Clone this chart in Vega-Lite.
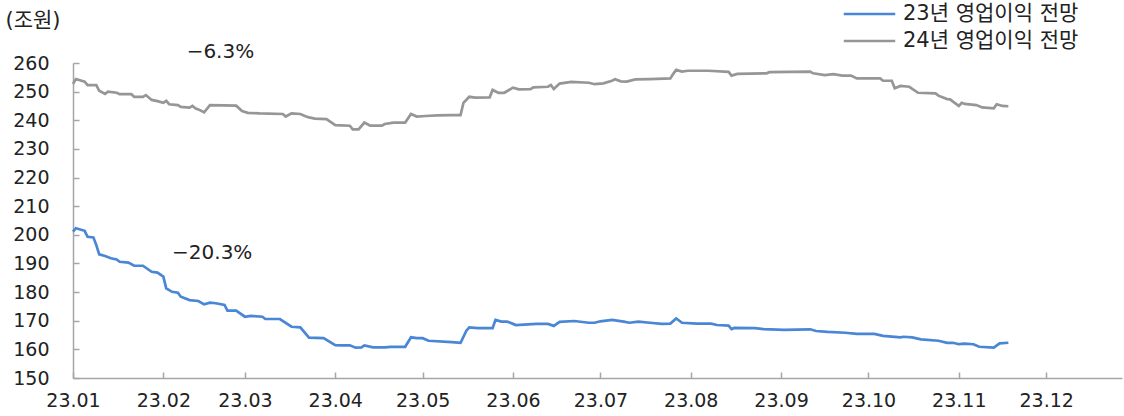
{
  "$schema": "https://vega.github.io/schema/vega-lite/v6.json",
  "width": 1049,
  "height": 315,
  "autosize": {"type": "none"},
  "padding": {"left": 73, "top": 63, "right": 2, "bottom": 38},
  "background": "white",
  "config": {
    "view": {"stroke": null},
    "font": "DejaVu Sans, Noto Sans CJK KR",
    "axis": {"grid": false}
  },
  "datasets": {
    "lines": [
      {"d":"2023-01-01","v":252.7,"s":"24년 영업이익 전망"},
      {"d":"2023-01-02","v":254.4,"s":"24년 영업이익 전망"},
      {"d":"2023-01-05","v":253.5,"s":"24년 영업이익 전망"},
      {"d":"2023-01-06","v":252.3,"s":"24년 영업이익 전망"},
      {"d":"2023-01-09","v":252.3,"s":"24년 영업이익 전망"},
      {"d":"2023-01-10","v":250.3,"s":"24년 영업이익 전망"},
      {"d":"2023-01-12","v":249.2,"s":"24년 영업이익 전망"},
      {"d":"2023-01-13","v":250.0,"s":"24년 영업이익 전망"},
      {"d":"2023-01-16","v":249.6,"s":"24년 영업이익 전망"},
      {"d":"2023-01-17","v":249.1,"s":"24년 영업이익 전망"},
      {"d":"2023-01-21","v":249.1,"s":"24년 영업이익 전망"},
      {"d":"2023-01-22","v":248.2,"s":"24년 영업이익 전망"},
      {"d":"2023-01-25","v":248.2,"s":"24년 영업이익 전망"},
      {"d":"2023-01-26","v":248.8,"s":"24년 영업이익 전망"},
      {"d":"2023-01-28","v":247.1,"s":"24년 영업이익 전망"},
      {"d":"2023-01-30","v":246.7,"s":"24년 영업이익 전망"},
      {"d":"2023-02-01","v":246.1,"s":"24년 영업이익 전망"},
      {"d":"2023-02-02","v":246.8,"s":"24년 영업이익 전망"},
      {"d":"2023-02-03","v":245.6,"s":"24년 영업이익 전망"},
      {"d":"2023-02-06","v":245.3,"s":"24년 영업이익 전망"},
      {"d":"2023-02-07","v":244.7,"s":"24년 영업이익 전망"},
      {"d":"2023-02-10","v":244.4,"s":"24년 영업이익 전망"},
      {"d":"2023-02-11","v":245.0,"s":"24년 영업이익 전망"},
      {"d":"2023-02-12","v":244.2,"s":"24년 영업이익 전망"},
      {"d":"2023-02-13","v":243.8,"s":"24년 영업이익 전망"},
      {"d":"2023-02-15","v":242.8,"s":"24년 영업이익 전망"},
      {"d":"2023-02-17","v":245.3,"s":"24년 영업이익 전망"},
      {"d":"2023-02-26","v":245.1,"s":"24년 영업이익 전망"},
      {"d":"2023-02-28","v":243.2,"s":"24년 영업이익 전망"},
      {"d":"2023-03-02","v":242.6,"s":"24년 영업이익 전망"},
      {"d":"2023-03-06","v":242.4,"s":"24년 영업이익 전망"},
      {"d":"2023-03-14","v":242.2,"s":"24년 영업이익 전망"},
      {"d":"2023-03-15","v":241.3,"s":"24년 영업이익 전망"},
      {"d":"2023-03-17","v":242.4,"s":"24년 영업이익 전망"},
      {"d":"2023-03-20","v":242.2,"s":"24년 영업이익 전망"},
      {"d":"2023-03-22","v":241.3,"s":"24년 영업이익 전망"},
      {"d":"2023-03-23","v":241.0,"s":"24년 영업이익 전망"},
      {"d":"2023-03-25","v":240.6,"s":"24년 영업이익 전망"},
      {"d":"2023-03-29","v":240.4,"s":"24년 영업이익 전망"},
      {"d":"2023-04-01","v":238.3,"s":"24년 영업이익 전망"},
      {"d":"2023-04-06","v":238.1,"s":"24년 영업이익 전망"},
      {"d":"2023-04-07","v":236.8,"s":"24년 영업이익 전망"},
      {"d":"2023-04-09","v":236.8,"s":"24년 영업이익 전망"},
      {"d":"2023-04-11","v":239.2,"s":"24년 영업이익 전망"},
      {"d":"2023-04-13","v":238.1,"s":"24년 영업이익 전망"},
      {"d":"2023-04-17","v":238.1,"s":"24년 영업이익 전망"},
      {"d":"2023-04-18","v":238.7,"s":"24년 영업이익 전망"},
      {"d":"2023-04-21","v":239.2,"s":"24년 영업이익 전망"},
      {"d":"2023-04-25","v":239.2,"s":"24년 영업이익 전망"},
      {"d":"2023-04-27","v":242.2,"s":"24년 영업이익 전망"},
      {"d":"2023-04-29","v":241.3,"s":"24년 영업이익 전망"},
      {"d":"2023-05-02","v":241.5,"s":"24년 영업이익 전망"},
      {"d":"2023-05-06","v":241.7,"s":"24년 영업이익 전망"},
      {"d":"2023-05-11","v":241.8,"s":"24년 영업이익 전망"},
      {"d":"2023-05-14","v":241.8,"s":"24년 영업이익 전망"},
      {"d":"2023-05-15","v":246.1,"s":"24년 영업이익 전망"},
      {"d":"2023-05-17","v":248.2,"s":"24년 영업이익 전망"},
      {"d":"2023-05-19","v":247.9,"s":"24년 영업이익 전망"},
      {"d":"2023-05-24","v":248.0,"s":"24년 영업이익 전망"},
      {"d":"2023-05-25","v":250.6,"s":"24년 영업이익 전망"},
      {"d":"2023-05-27","v":249.6,"s":"24년 영업이익 전망"},
      {"d":"2023-05-29","v":249.6,"s":"24년 영업이익 전망"},
      {"d":"2023-06-01","v":251.4,"s":"24년 영업이익 전망"},
      {"d":"2023-06-03","v":250.8,"s":"24년 영업이익 전망"},
      {"d":"2023-06-07","v":250.9,"s":"24년 영업이익 전망"},
      {"d":"2023-06-08","v":251.5,"s":"24년 영업이익 전망"},
      {"d":"2023-06-13","v":251.7,"s":"24년 영업이익 전망"},
      {"d":"2023-06-14","v":252.3,"s":"24년 영업이익 전망"},
      {"d":"2023-06-15","v":250.9,"s":"24년 영업이익 전망"},
      {"d":"2023-06-17","v":252.8,"s":"24년 영업이익 전망"},
      {"d":"2023-06-21","v":253.4,"s":"24년 영업이익 전망"},
      {"d":"2023-06-27","v":253.1,"s":"24년 영업이익 전망"},
      {"d":"2023-06-29","v":252.6,"s":"24년 영업이익 전망"},
      {"d":"2023-07-02","v":252.9,"s":"24년 영업이익 전망"},
      {"d":"2023-07-05","v":253.8,"s":"24년 영업이익 전망"},
      {"d":"2023-07-06","v":254.3,"s":"24년 영업이익 전망"},
      {"d":"2023-07-08","v":253.6,"s":"24년 영업이익 전망"},
      {"d":"2023-07-10","v":253.5,"s":"24년 영업이익 전망"},
      {"d":"2023-07-13","v":254.3,"s":"24년 영업이익 전망"},
      {"d":"2023-07-18","v":254.4,"s":"24년 영업이익 전망"},
      {"d":"2023-07-25","v":254.6,"s":"24년 영업이익 전망"},
      {"d":"2023-07-26","v":256.2,"s":"24년 영업이익 전망"},
      {"d":"2023-07-27","v":257.6,"s":"24년 영업이익 전망"},
      {"d":"2023-07-29","v":257.0,"s":"24년 영업이익 전망"},
      {"d":"2023-07-31","v":257.3,"s":"24년 영업이익 전망"},
      {"d":"2023-08-07","v":257.3,"s":"24년 영업이익 전망"},
      {"d":"2023-08-14","v":256.9,"s":"24년 영업이익 전망"},
      {"d":"2023-08-15","v":255.6,"s":"24년 영업이익 전망"},
      {"d":"2023-08-17","v":256.2,"s":"24년 영업이익 전망"},
      {"d":"2023-08-27","v":256.4,"s":"24년 영업이익 전망"},
      {"d":"2023-08-28","v":256.8,"s":"24년 영업이익 전망"},
      {"d":"2023-09-11","v":257.0,"s":"24년 영업이익 전망"},
      {"d":"2023-09-12","v":256.4,"s":"24년 영업이익 전망"},
      {"d":"2023-09-16","v":255.8,"s":"24년 영업이익 전망"},
      {"d":"2023-09-19","v":256.1,"s":"24년 영업이익 전망"},
      {"d":"2023-09-22","v":255.6,"s":"24년 영업이익 전망"},
      {"d":"2023-09-25","v":255.6,"s":"24년 영업이익 전망"},
      {"d":"2023-09-27","v":254.6,"s":"24년 영업이익 전망"},
      {"d":"2023-10-05","v":254.6,"s":"24년 영업이익 전망"},
      {"d":"2023-10-06","v":253.8,"s":"24년 영업이익 전망"},
      {"d":"2023-10-09","v":253.8,"s":"24년 영업이익 전망"},
      {"d":"2023-10-10","v":251.2,"s":"24년 영업이익 전망"},
      {"d":"2023-10-12","v":252.0,"s":"24년 영업이익 전망"},
      {"d":"2023-10-15","v":251.7,"s":"24년 영업이익 전망"},
      {"d":"2023-10-18","v":249.6,"s":"24년 영업이익 전망"},
      {"d":"2023-10-24","v":249.4,"s":"24년 영업이익 전망"},
      {"d":"2023-10-25","v":248.6,"s":"24년 영업이익 전망"},
      {"d":"2023-10-28","v":247.4,"s":"24년 영업이익 전망"},
      {"d":"2023-10-29","v":247.3,"s":"24년 영업이익 전망"},
      {"d":"2023-10-30","v":246.5,"s":"24년 영업이익 전망"},
      {"d":"2023-11-01","v":245.0,"s":"24년 영업이익 전망"},
      {"d":"2023-11-02","v":246.1,"s":"24년 영업이익 전망"},
      {"d":"2023-11-03","v":245.7,"s":"24년 영업이익 전망"},
      {"d":"2023-11-07","v":245.3,"s":"24년 영업이익 전망"},
      {"d":"2023-11-09","v":244.5,"s":"24년 영업이익 전망"},
      {"d":"2023-11-13","v":244.2,"s":"24년 영업이익 전망"},
      {"d":"2023-11-14","v":245.6,"s":"24년 영업이익 전망"},
      {"d":"2023-11-16","v":245.0,"s":"24년 영업이익 전망"},
      {"d":"2023-11-18","v":244.9,"s":"24년 영업이익 전망"},

      {"d":"2023-01-01","v":201.1,"s":"23년 영업이익 전망"},
      {"d":"2023-01-02","v":202.3,"s":"23년 영업이익 전망"},
      {"d":"2023-01-05","v":201.4,"s":"23년 영업이익 전망"},
      {"d":"2023-01-06","v":199.3,"s":"23년 영업이익 전망"},
      {"d":"2023-01-08","v":199.1,"s":"23년 영업이익 전망"},
      {"d":"2023-01-09","v":196.4,"s":"23년 영업이익 전망"},
      {"d":"2023-01-10","v":193.2,"s":"23년 영업이익 전망"},
      {"d":"2023-01-12","v":192.6,"s":"23년 영업이익 전망"},
      {"d":"2023-01-14","v":191.8,"s":"23년 영업이익 전망"},
      {"d":"2023-01-16","v":191.4,"s":"23년 영업이익 전망"},
      {"d":"2023-01-17","v":190.6,"s":"23년 영업이익 전망"},
      {"d":"2023-01-20","v":190.3,"s":"23년 영업이익 전망"},
      {"d":"2023-01-22","v":189.2,"s":"23년 영업이익 전망"},
      {"d":"2023-01-25","v":189.2,"s":"23년 영업이익 전망"},
      {"d":"2023-01-28","v":187.1,"s":"23년 영업이익 전망"},
      {"d":"2023-01-30","v":186.8,"s":"23년 영업이익 전망"},
      {"d":"2023-02-01","v":185.4,"s":"23년 영업이익 전망"},
      {"d":"2023-02-02","v":181.3,"s":"23년 영업이익 전망"},
      {"d":"2023-02-04","v":180.1,"s":"23년 영업이익 전망"},
      {"d":"2023-02-06","v":179.8,"s":"23년 영업이익 전망"},
      {"d":"2023-02-07","v":178.4,"s":"23년 영업이익 전망"},
      {"d":"2023-02-10","v":177.2,"s":"23년 영업이익 전망"},
      {"d":"2023-02-13","v":176.9,"s":"23년 영업이익 전망"},
      {"d":"2023-02-15","v":175.7,"s":"23년 영업이익 전망"},
      {"d":"2023-02-17","v":176.3,"s":"23년 영업이익 전망"},
      {"d":"2023-02-19","v":176.1,"s":"23년 영업이익 전망"},
      {"d":"2023-02-22","v":175.5,"s":"23년 영업이익 전망"},
      {"d":"2023-02-23","v":173.5,"s":"23년 영업이익 전망"},
      {"d":"2023-02-26","v":173.5,"s":"23년 영업이익 전망"},
      {"d":"2023-03-01","v":171.4,"s":"23년 영업이익 전망"},
      {"d":"2023-03-03","v":171.7,"s":"23년 영업이익 전망"},
      {"d":"2023-03-07","v":171.4,"s":"23년 영업이익 전망"},
      {"d":"2023-03-08","v":170.6,"s":"23년 영업이익 전망"},
      {"d":"2023-03-13","v":170.6,"s":"23년 영업이익 전망"},
      {"d":"2023-03-17","v":167.9,"s":"23년 영업이익 전망"},
      {"d":"2023-03-20","v":167.7,"s":"23년 영업이익 전망"},
      {"d":"2023-03-23","v":164.1,"s":"23년 영업이익 전망"},
      {"d":"2023-03-28","v":163.9,"s":"23년 영업이익 전망"},
      {"d":"2023-04-01","v":161.5,"s":"23년 영업이익 전망"},
      {"d":"2023-04-03","v":161.4,"s":"23년 영업이익 전망"},
      {"d":"2023-04-06","v":161.4,"s":"23년 영업이익 전망"},
      {"d":"2023-04-08","v":160.6,"s":"23년 영업이익 전망"},
      {"d":"2023-04-10","v":160.7,"s":"23년 영업이익 전망"},
      {"d":"2023-04-11","v":161.4,"s":"23년 영업이익 전망"},
      {"d":"2023-04-14","v":160.7,"s":"23년 영업이익 전망"},
      {"d":"2023-04-18","v":160.7,"s":"23년 영업이익 전망"},
      {"d":"2023-04-20","v":160.9,"s":"23년 영업이익 전망"},
      {"d":"2023-04-25","v":160.9,"s":"23년 영업이익 전망"},
      {"d":"2023-04-27","v":164.2,"s":"23년 영업이익 전망"},
      {"d":"2023-04-29","v":163.9,"s":"23년 영업이익 전망"},
      {"d":"2023-05-01","v":163.9,"s":"23년 영업이익 전망"},
      {"d":"2023-05-03","v":163.0,"s":"23년 영업이익 전망"},
      {"d":"2023-05-11","v":162.5,"s":"23년 영업이익 전망"},
      {"d":"2023-05-14","v":162.3,"s":"23년 영업이익 전망"},
      {"d":"2023-05-16","v":166.5,"s":"23년 영업이익 전망"},
      {"d":"2023-05-17","v":167.7,"s":"23년 영업이익 전망"},
      {"d":"2023-05-20","v":167.4,"s":"23년 영업이익 전망"},
      {"d":"2023-05-25","v":167.4,"s":"23년 영업이익 전망"},
      {"d":"2023-05-26","v":170.3,"s":"23년 영업이익 전망"},
      {"d":"2023-05-28","v":169.7,"s":"23년 영업이익 전망"},
      {"d":"2023-05-30","v":169.7,"s":"23년 영업이익 전망"},
      {"d":"2023-06-01","v":168.9,"s":"23년 영업이익 전망"},
      {"d":"2023-06-02","v":168.5,"s":"23년 영업이익 전망"},
      {"d":"2023-06-09","v":168.9,"s":"23년 영업이익 전망"},
      {"d":"2023-06-13","v":168.9,"s":"23년 영업이익 전망"},
      {"d":"2023-06-15","v":168.2,"s":"23년 영업이익 전망"},
      {"d":"2023-06-17","v":169.6,"s":"23년 영업이익 전망"},
      {"d":"2023-06-22","v":169.9,"s":"23년 영업이익 전망"},
      {"d":"2023-06-27","v":169.3,"s":"23년 영업이익 전망"},
      {"d":"2023-06-29","v":169.3,"s":"23년 영업이익 전망"},
      {"d":"2023-07-01","v":169.8,"s":"23년 영업이익 전망"},
      {"d":"2023-07-05","v":170.3,"s":"23년 영업이익 전망"},
      {"d":"2023-07-09","v":169.7,"s":"23년 영업이익 전망"},
      {"d":"2023-07-11","v":169.3,"s":"23년 영업이익 전망"},
      {"d":"2023-07-14","v":169.7,"s":"23년 영업이익 전망"},
      {"d":"2023-07-18","v":169.3,"s":"23년 영업이익 전망"},
      {"d":"2023-07-22","v":168.9,"s":"23년 영업이익 전망"},
      {"d":"2023-07-25","v":169.0,"s":"23년 영업이익 전망"},
      {"d":"2023-07-27","v":170.8,"s":"23년 영업이익 전망"},
      {"d":"2023-07-29","v":169.3,"s":"23년 영업이익 전망"},
      {"d":"2023-08-03","v":169.0,"s":"23년 영업이익 전망"},
      {"d":"2023-08-08","v":169.0,"s":"23년 영업이익 전망"},
      {"d":"2023-08-10","v":168.5,"s":"23년 영업이익 전망"},
      {"d":"2023-08-14","v":168.3,"s":"23년 영업이익 전망"},
      {"d":"2023-08-15","v":167.1,"s":"23년 영업이익 전망"},
      {"d":"2023-08-16","v":167.5,"s":"23년 영업이익 전망"},
      {"d":"2023-08-23","v":167.4,"s":"23년 영업이익 전망"},
      {"d":"2023-08-26","v":167.1,"s":"23년 영업이익 전망"},
      {"d":"2023-09-02","v":166.8,"s":"23년 영업이익 전망"},
      {"d":"2023-09-11","v":167.0,"s":"23년 영업이익 전망"},
      {"d":"2023-09-13","v":166.4,"s":"23년 영업이익 전망"},
      {"d":"2023-09-17","v":166.1,"s":"23년 영업이익 전망"},
      {"d":"2023-09-23","v":165.8,"s":"23년 영업이익 전망"},
      {"d":"2023-09-27","v":165.4,"s":"23년 영업이익 전망"},
      {"d":"2023-10-03","v":165.4,"s":"23년 영업이익 전망"},
      {"d":"2023-10-06","v":164.7,"s":"23년 영업이익 전망"},
      {"d":"2023-10-12","v":164.2,"s":"23년 영업이익 전망"},
      {"d":"2023-10-13","v":164.4,"s":"23년 영업이익 전망"},
      {"d":"2023-10-16","v":164.2,"s":"23년 영업이익 전망"},
      {"d":"2023-10-19","v":163.5,"s":"23년 영업이익 전망"},
      {"d":"2023-10-25","v":163.0,"s":"23년 영업이익 전망"},
      {"d":"2023-10-28","v":162.3,"s":"23년 영업이익 전망"},
      {"d":"2023-10-30","v":162.3,"s":"23년 영업이익 전망"},
      {"d":"2023-11-01","v":161.8,"s":"23년 영업이익 전망"},
      {"d":"2023-11-03","v":162.0,"s":"23년 영업이익 전망"},
      {"d":"2023-11-06","v":161.8,"s":"23년 영업이익 전망"},
      {"d":"2023-11-08","v":160.9,"s":"23년 영업이익 전망"},
      {"d":"2023-11-13","v":160.6,"s":"23년 영업이익 전망"},
      {"d":"2023-11-15","v":162.1,"s":"23년 영업이익 전망"},
      {"d":"2023-11-18","v":162.3,"s":"23년 영업이익 전망"}
    ],
    "notes": [
      {"d":"2023-02-09","v":263.8,"t":"−6.3%"},
      {"d":"2023-02-04","v":193.8,"t":"−20.3%"}
    ]
  },
  "encoding": {
    "x": {
      "field": "d",
      "type": "temporal",
      "scale": {"type": "utc", "domain": [{"year":2023,"month":1,"date":1,"utc":true},{"year":2023,"month":12,"date":27,"utc":true}]},
      "axis": {
        "title": null,
        "values": [
          {"year":2023,"month":1,"date":1,"utc":true},
          {"year":2023,"month":2,"date":1,"utc":true},
          {"year":2023,"month":3,"date":1,"utc":true},
          {"year":2023,"month":4,"date":1,"utc":true},
          {"year":2023,"month":5,"date":1,"utc":true},
          {"year":2023,"month":6,"date":1,"utc":true},
          {"year":2023,"month":7,"date":1,"utc":true},
          {"year":2023,"month":8,"date":1,"utc":true},
          {"year":2023,"month":9,"date":1,"utc":true},
          {"year":2023,"month":10,"date":1,"utc":true},
          {"year":2023,"month":11,"date":1,"utc":true},
          {"year":2023,"month":12,"date":1,"utc":true}
        ],
        "labelExpr": "utcFormat(datum.value, '%y.%m')",
        "labelFontSize": 19,
        "labelColor": "#222222",
        "labelPadding": 19,
        "labelFlush": false,
        "labelOverlap": false,
        "tickSize": -6,
        "tickColor": "#a6a6a6",
        "tickWidth": 1.5,
        "domainColor": "#a6a6a6",
        "domainWidth": 1.5
      }
    },
    "y": {
      "field": "v",
      "type": "quantitative",
      "scale": {"domain": [150, 260], "nice": false, "zero": false},
      "axis": {
        "values": [150,160,170,180,190,200,210,220,230,240,250,260],
        "labelFontSize": 19,
        "labelColor": "#222222",
        "labelPadding": 30,
        "labelOverlap": false,
        "labelFlush": false,
        "tickSize": -6,
        "tickColor": "#a6a6a6",
        "tickWidth": 1.5,
        "domainColor": "#a6a6a6",
        "domainWidth": 1.5,
        "title": "(조원)",
        "titleAngle": 0,
        "titleAlign": "left",
        "titleBaseline": "middle",
        "titleX": -68,
        "titleY": -43,
        "titleFontSize": 21,
        "titleFontWeight": "normal",
        "titleColor": "#222222"
      }
    }
  },
  "layer": [
    {
      "data": {"name": "lines"},
      "mark": {"type": "line", "strokeWidth": 2.7, "interpolate": "linear"},
      "encoding": {
        "color": {
          "field": "s",
          "type": "nominal",
          "scale": {"domain": ["23년 영업이익 전망", "24년 영업이익 전망"], "range": ["#4a86d6", "#969696"]},
          "legend": {
            "title": null,
            "orient": "none",
            "legendX": 769,
            "legendY": -59,
            "symbolType": "stroke",
            "symbolSize": 2650,
            "symbolStrokeWidth": 2.6,
            "clipHeight": 20,
            "labelFontSize": 21,
            "labelLimit": 400,
            "labelColor": "#222222",
            "labelOffset": 6,
            "rowPadding": 6,
            "padding": 0
          }
        }
      }
    },
    {
      "data": {"name": "notes"},
      "mark": {"type": "text", "align": "left", "baseline": "middle", "fontSize": 20, "color": "#222222", "clip": false},
      "encoding": {
        "text": {"field": "t"}
      }
    }
  ]
}
